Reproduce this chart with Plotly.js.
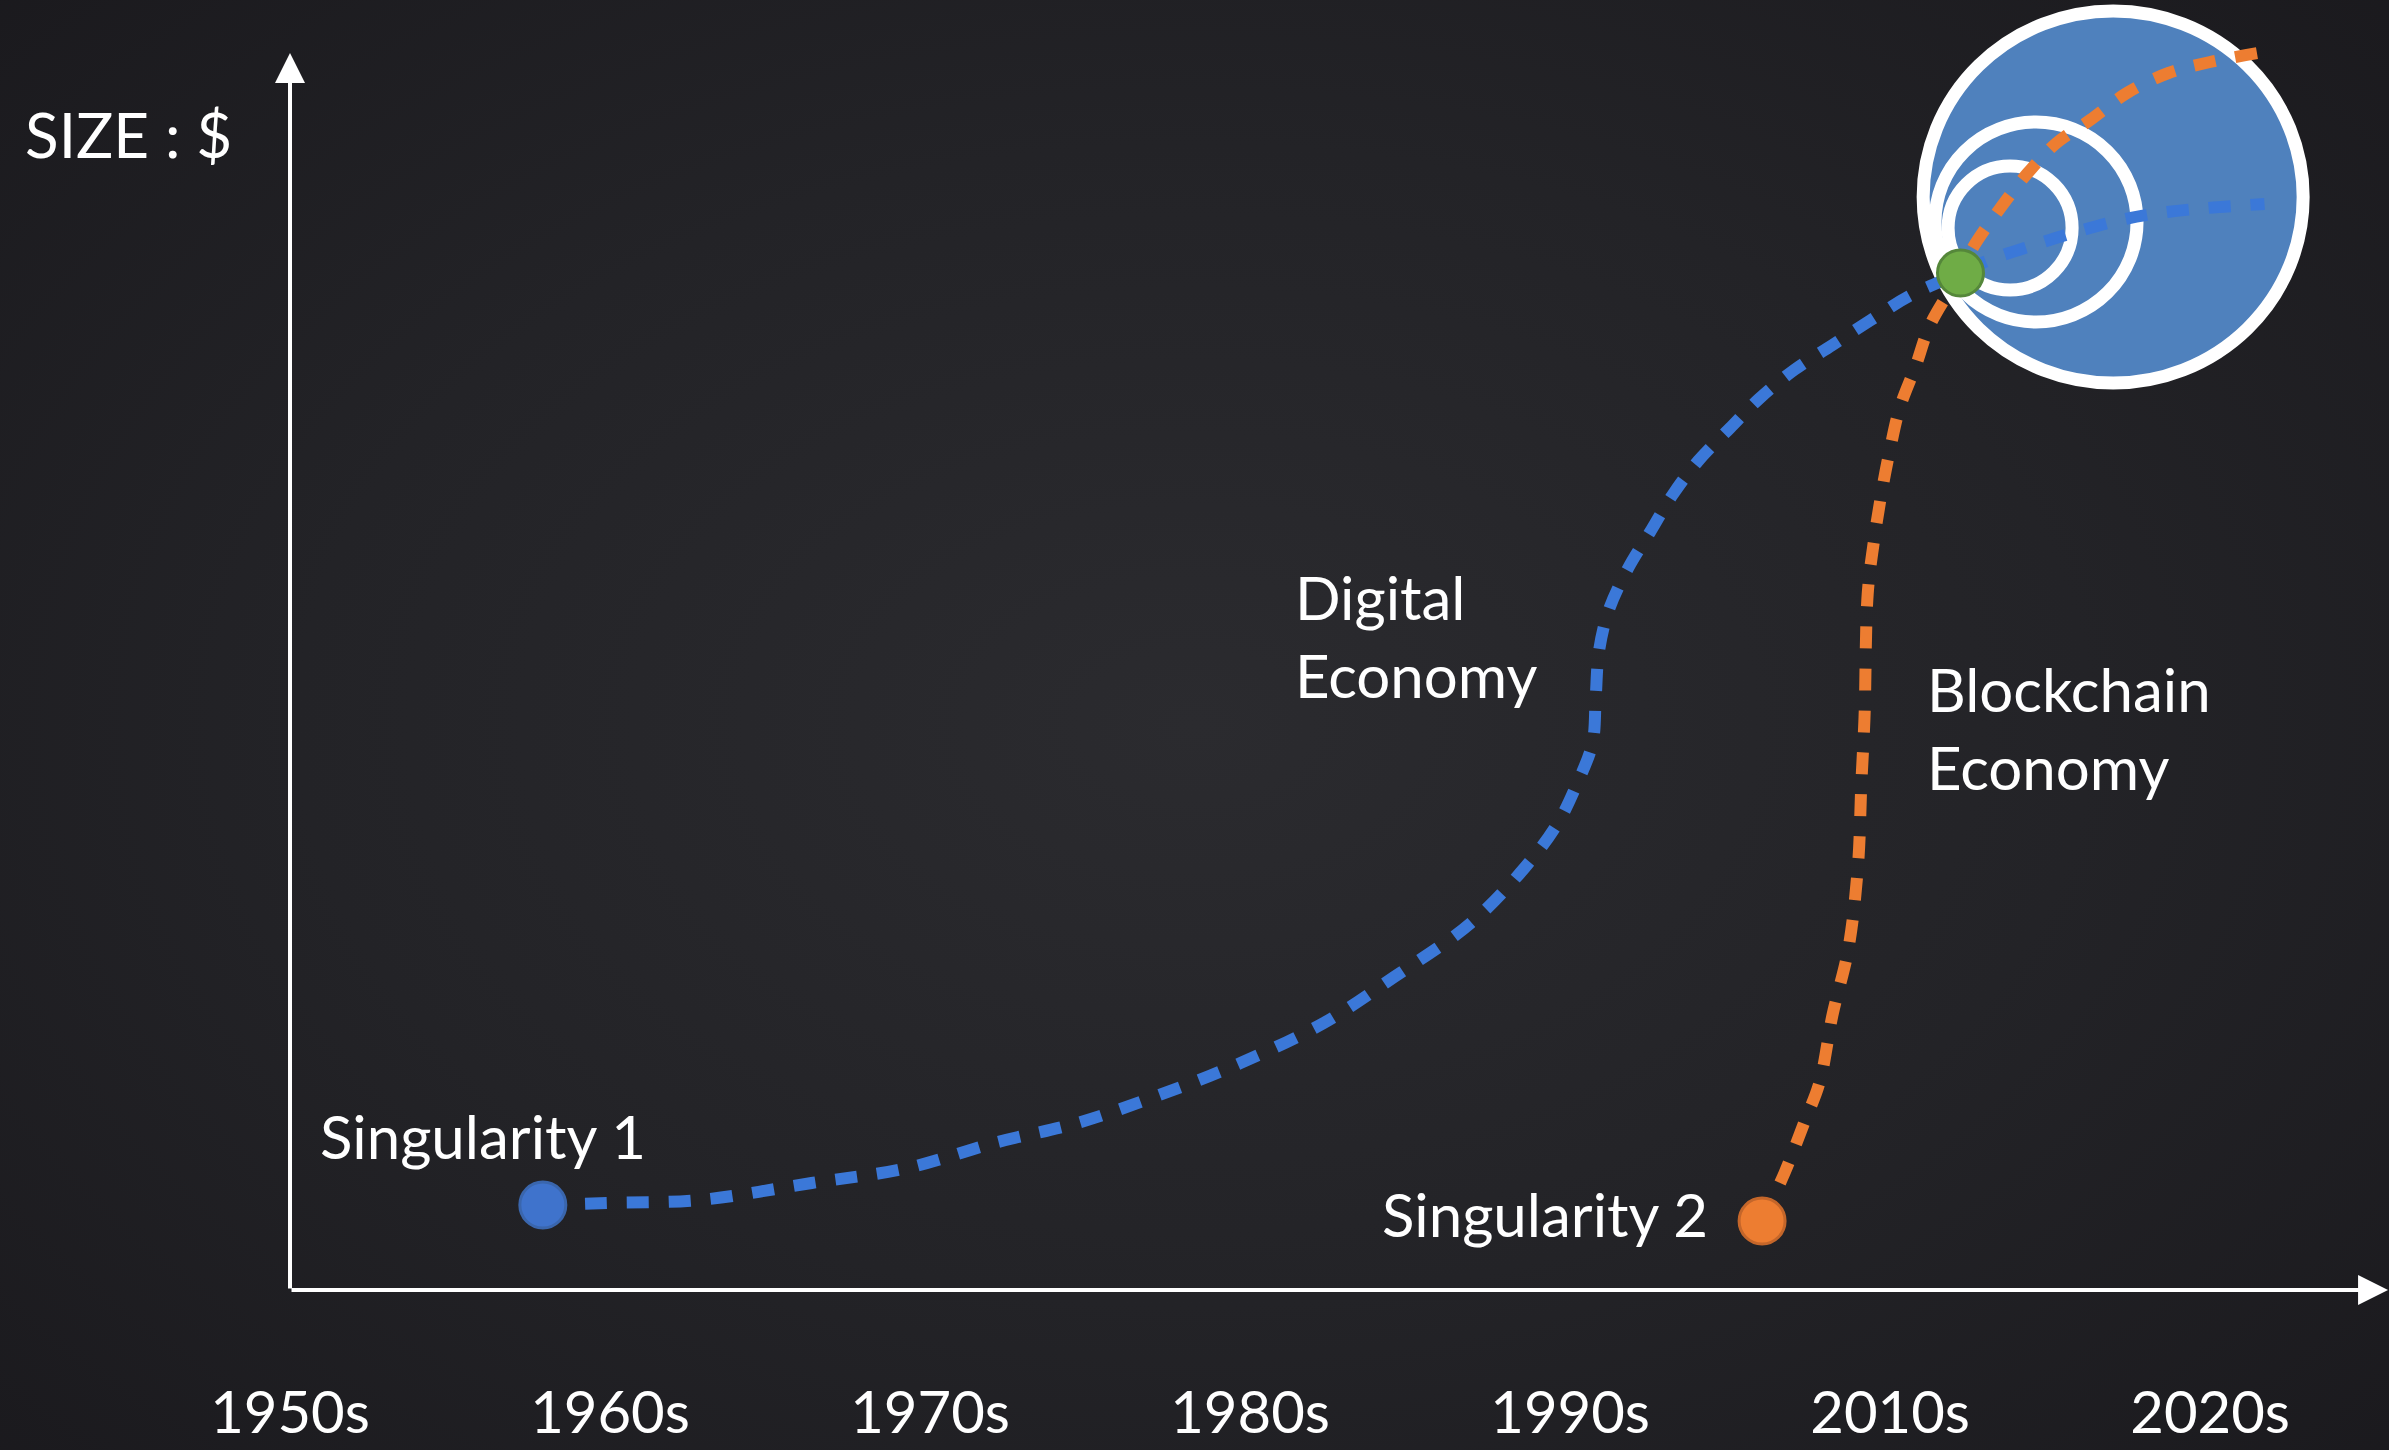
<!DOCTYPE html>
<html><head><meta charset="utf-8">
<script src="https://cdn.plot.ly/plotly-3.0.1.min.js"></script>
<style>
html,body{margin:0;padding:0;width:2389px;height:1450px;overflow:hidden;
background: radial-gradient(ellipse 75% 80% at 50% 50%, #2b2b2f 0%, #232327 50%, #19181c 100%);}
#chart{width:2389px;height:1450px;}
</style></head><body><div id="chart"></div>
<script>
// x axis: decade index (the chart skips the 2000s label)
const decadePositions = [0, 1, 2, 3, 4, 5, 6];
const decadeLabels = ['1950s', '1960s', '1970s', '1980s', '1990s', '2010s', '2020s'];

// Digital Economy curve (size in arbitrary units)
const digitalX = [0.79, 0.99, 1.28, 1.63, 1.93, 2.20, 2.46, 2.70, 2.97, 3.23, 3.45, 3.69, 3.86, 3.96, 4.02, 4.07, 4.08, 4.09, 4.12, 4.18, 4.25, 4.32, 4.40, 4.50, 4.59, 4.70, 4.82, 4.94, 5.06, 5.22, 5.31, 5.45, 5.57, 5.72, 5.84, 5.99, 6.17];
const digitalY = [0.85, 0.87, 0.90, 1.07, 1.22, 1.47, 1.67, 1.93, 2.27, 2.67, 3.13, 3.67, 4.23, 4.66, 5.05, 5.47, 5.92, 6.38, 6.79, 7.21, 7.58, 7.95, 8.29, 8.62, 8.91, 9.20, 9.45, 9.70, 9.94, 10.17, 10.30, 10.45, 10.57, 10.70, 10.77, 10.82, 10.86];

// Blockchain Economy curve
const blockchainX = [4.60, 4.67, 4.73, 4.78, 4.82, 4.87, 4.90, 4.91, 4.92, 4.93, 4.95, 4.975, 5.00, 5.03, 5.08, 5.125, 5.22, 5.26, 5.34, 5.43, 5.52, 5.625, 5.74, 5.87, 6.00, 6.15];
const blockchainY = [0.69, 1.17, 1.66, 2.08, 2.75, 3.42, 4.26, 5.05, 5.72, 6.96, 7.50, 8.00, 8.41, 8.82, 9.24, 9.65, 10.17, 10.43, 10.80, 11.17, 11.47, 11.70, 11.97, 12.17, 12.28, 12.37];

// Key points
const pointNames = ['Singularity 1', 'Singularity 2', 'Convergence'];
const pointX = [0.79, 4.60, 5.22];
const pointY = [0.85, 0.69, 10.17];

const dash = '22px,20px';
const traces = [
  {x: digitalX, y: digitalY, mode: 'lines', name: 'Digital Economy',
   line: {color: '#3b78d8', width: 12, dash: dash, shape: 'spline', smoothing: 1}},
  {x: blockchainX, y: blockchainY, mode: 'lines', name: 'Blockchain Economy',
   line: {color: '#ed7d31', width: 12, dash: dash, shape: 'spline', smoothing: 1}},
  {x: pointX, y: pointY, mode: 'markers', text: pointNames, name: 'points',
   marker: {size: 46, color: ['#3f73cc', '#ed7d31', '#6fac46'],
            line: {width: 3, color: ['#3a66ad', '#c4662a', '#55873a']}}}
];

const white = '#ffffff';
const tf = {family: 'Lato, "Open Sans", sans-serif', size: 60, color: white};

const layout = {
  width: 2389, height: 1450,
  margin: {l: 0, r: 0, t: 0, b: 100},
  paper_bgcolor: 'rgba(0,0,0,0)', plot_bgcolor: 'rgba(0,0,0,0)',
  showlegend: false,
  xaxis: {range: [-0.90625, 6.559], tickvals: decadePositions, ticktext: decadeLabels,
          showgrid: false, zeroline: false, showline: false, ticks: '',
          ticklabelstandoff: 24,
          tickfont: {family: 'Lato, "Open Sans", sans-serif', size: 58, color: white}},
  yaxis: {range: [-0.6, 12.9], showgrid: false, zeroline: false, showline: false,
          showticklabels: false, ticks: ''},
  shapes: [
    {type: 'circle', layer: 'below', xref: 'x', yref: 'y', xsizemode: 'pixel', ysizemode: 'pixel',
     xanchor: 5.697, yanchor: 10.93, x0: -190, x1: 190, y0: -186, y1: 186,
     fillcolor: '#4f81bd', line: {color: white, width: 13}},
    {type: 'circle', layer: 'below', xref: 'x', yref: 'y', xsizemode: 'pixel', ysizemode: 'pixel',
     xanchor: 5.456, yanchor: 10.68, x0: -101, x1: 101, y0: -100, y1: 100,
     fillcolor: 'rgba(0,0,0,0)', line: {color: white, width: 13}},
    {type: 'circle', layer: 'below', xref: 'x', yref: 'y', xsizemode: 'pixel', ysizemode: 'pixel',
     xanchor: 5.375, yanchor: 10.62, x0: -62, x1: 62, y0: -62, y1: 62,
     fillcolor: 'rgba(0,0,0,0)', line: {color: white, width: 13}}
  ],
  annotations: [
    // axes arrows
    {x: 0, y: 12.37, ax: 0, ay: 0, xref: 'x', yref: 'y', axref: 'x', ayref: 'y', text: '',
     showarrow: true, arrowhead: 2, arrowsize: 1.5, arrowwidth: 4, arrowcolor: white},
    {x: 6.556, y: 0, ax: 0, ay: 0, xref: 'x', yref: 'y', axref: 'x', ayref: 'y', text: '',
     showarrow: true, arrowhead: 2, arrowsize: 1.5, arrowwidth: 4, arrowcolor: white},
    // labels
    {x: -0.835, y: 11.56, xref: 'x', yref: 'y', text: 'SIZE : $', showarrow: false,
     xanchor: 'left', yanchor: 'middle', font: Object.assign({}, tf, {size: 62})},
    {x: 0.0875, y: 1.54, xref: 'x', yref: 'y', text: 'Singularity 1', showarrow: false,
     xanchor: 'left', yanchor: 'middle', font: tf},
    {x: 3.406, y: 0.76, xref: 'x', yref: 'y', text: 'Singularity 2', showarrow: false,
     xanchor: 'left', yanchor: 'middle', font: tf},
    {x: 3.134, y: 6.54, xref: 'x', yref: 'y', text: 'Digital<br>Economy', showarrow: false,
     xanchor: 'left', yanchor: 'middle', align: 'left', font: tf},
    {x: 5.11, y: 5.62, xref: 'x', yref: 'y', text: 'Blockchain<br>Economy', showarrow: false,
     xanchor: 'left', yanchor: 'middle', align: 'left', font: tf}
  ]
};

Plotly.newPlot('chart', traces, layout, {displayModeBar: false, staticPlot: true});
</script>
</body></html>
